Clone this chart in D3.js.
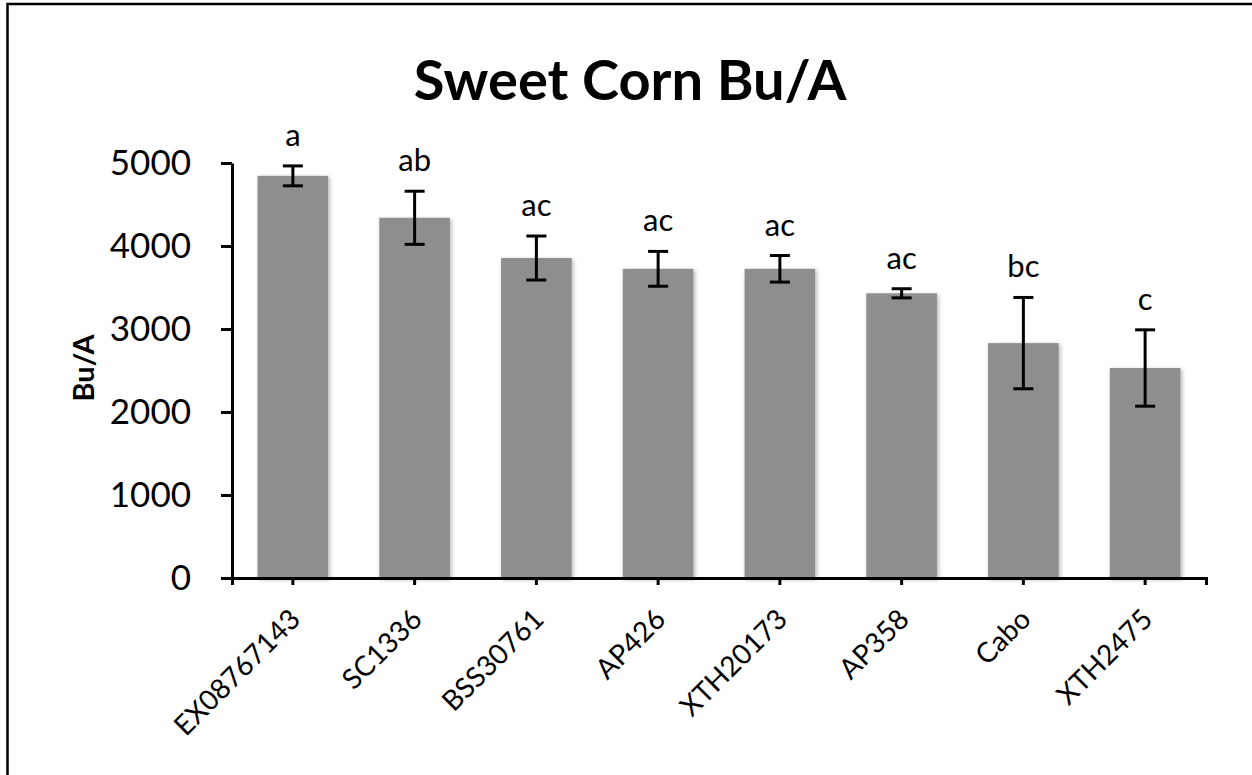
<!DOCTYPE html>
<html>
<head>
<meta charset="utf-8">
<script src="https://cdn.jsdelivr.net/npm/d3@7"></script>
<style>
  body { margin: 0; background: #fff; }
  svg { display: block; font-family: Lato, 'Open Sans', sans-serif; }
</style>
</head>
<body>
<svg id="chart"></svg>
<script>
// values
let categories = ['EX08767143', 'SC1336', 'BSS30761', 'AP426', 'XTH20173', 'AP358', 'Cabo', 'XTH2475']
let yields = [4845, 4340, 3855, 3725, 3725, 3430, 2830, 2530]
let errors = [120, 320, 265, 210, 160, 55, 550, 460]
let letters = ['a', 'ab', 'ac', 'ac', 'ac', 'ac', 'bc', 'c']
let yTicks = [0, 1000, 2000, 3000, 4000, 5000]

let width = 1252
let height = 775

let plotLeft = 232
let plotRight = 1206
let plotTop = 163
let plotBottom = 578

let svg = d3.select('#chart')
    .attr('width', width)
    .attr('height', height)

// outer frame (right and bottom run off the picture)
svg.append('rect')
    .attr('x', 7.5)
    .attr('y', 4)
    .attr('width', 1270)
    .attr('height', 800)
    .attr('fill', 'none')
    .attr('stroke', '#000')
    .attr('stroke-width', 2.5)

let defs = svg.append('defs')
let shadow = defs.append('filter')
    .attr('id', 'shadow')
    .attr('x', '-20%').attr('y', '-20%')
    .attr('width', '140%').attr('height', '140%')
shadow.append('feDropShadow')
    .attr('dx', 1.5)
    .attr('dy', 1.5)
    .attr('stdDeviation', 2)
    .attr('flood-color', '#000')
    .attr('flood-opacity', 0.3)

let xScale = d3.scaleBand()
    .domain(categories)
    .range([plotLeft, plotRight])
    .paddingInner(0.42)
    .paddingOuter(0.21)

let yScale = d3.scaleLinear()
    .domain([0, 5000])
    .range([plotBottom, plotTop])

let rows = categories.map((c, i) => ({ name: c, value: yields[i], err: errors[i], letter: letters[i] }))

// bars
svg.append('g')
    .selectAll('rect')
    .data(rows)
    .enter()
    .append('rect')
    .attr('x', d => xScale(d.name))
    .attr('y', d => yScale(d.value))
    .attr('width', xScale.bandwidth())
    .attr('height', d => yScale(0) - yScale(d.value))
    .attr('fill', '#8e8e8e')
    .attr('filter', 'url(#shadow)')

// error bars
let errG = svg.append('g')
    .attr('stroke', '#000')
    .attr('stroke-width', 3)
    .attr('fill', 'none')

rows.forEach(d => {
    let cx = xScale(d.name) + xScale.bandwidth() / 2
    let y1 = yScale(d.value + d.err)
    let y2 = yScale(d.value - d.err)
    errG.append('line').attr('x1', cx).attr('x2', cx).attr('y1', y1).attr('y2', y2)
    errG.append('line').attr('x1', cx - 10).attr('x2', cx + 10).attr('y1', y1).attr('y2', y1)
    errG.append('line').attr('x1', cx - 10).attr('x2', cx + 10).attr('y1', y2).attr('y2', y2)
})

// significance letters
svg.append('g')
    .selectAll('text')
    .data(rows)
    .enter()
    .append('text')
    .attr('x', d => xScale(d.name) + xScale.bandwidth() / 2)
    .attr('y', d => yScale(d.value + d.err) - 20)
    .attr('text-anchor', 'middle')
    .attr('font-size', 31)
    .attr('fill', '#000')
    .text(d => d.letter)

// axes
let yAxis = d3.axisLeft(yScale)
    .tickValues(yTicks)
    .tickSize(11)
    .tickSizeOuter(0)
    .tickPadding(30)
    .tickFormat(d3.format('d'))

let xAxis = d3.axisBottom(xScale)
    .tickSize(7)
    .tickSizeOuter(7)

let yG = svg.append('g')
    .attr('transform', `translate(${plotLeft},0)`)
    .call(yAxis)
yG.selectAll('path, line').attr('stroke', '#000').attr('stroke-width', 3)
yG.selectAll('text')
    .attr('font-size', 35)
    .attr('font-family', 'Lato, sans-serif')
    .attr('fill', '#000')

let xG = svg.append('g')
    .attr('transform', `translate(0,${plotBottom})`)
    .call(xAxis)
xG.selectAll('path, line').attr('stroke', '#000').attr('stroke-width', 3)
xG.selectAll('text')
    .attr('font-size', 28)
    .attr('font-family', 'Lato, sans-serif')
    .attr('fill', '#000')
    .attr('text-anchor', 'end')
    .attr('x', null)
    .attr('y', null)
    .attr('dy', null)
    .attr('transform', 'translate(9,43) rotate(-45)')

// titles
svg.append('text')
    .attr('x', 630)
    .attr('y', 100)
    .attr('text-anchor', 'middle')
    .attr('font-size', 56)
    .attr('font-weight', 'bold')
    .attr('fill', '#000')
    .text('Sweet Corn Bu/A')

svg.append('text')
    .attr('transform', 'translate(94,368) rotate(-90)')
    .attr('text-anchor', 'middle')
    .attr('font-size', 29)
    .attr('font-weight', 'bold')
    .attr('fill', '#000')
    .text('Bu/A')
</script>
</body>
</html>
